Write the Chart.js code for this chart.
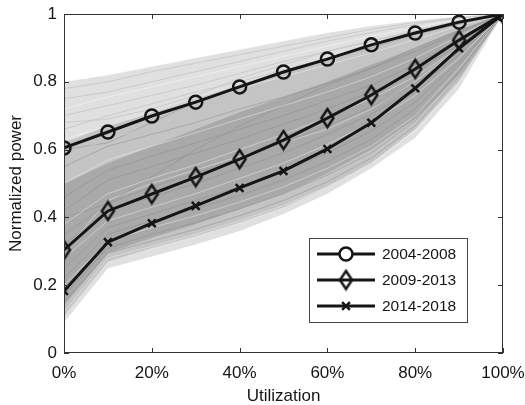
<!DOCTYPE html>
<html>
<head>
<meta charset="utf-8">
<script src="https://cdn.jsdelivr.net/npm/chart.js@4.4.1/dist/chart.umd.min.js"></script>
<style>
  html, body { margin: 0; padding: 0; background: #fff; }
  #wrap { width: 525px; height: 405px; }
</style>
</head>
<body>
<div id="wrap"><canvas id="powerChart" width="525" height="405"></canvas></div>
<script>
// x positions and tick labels
const utilization = [0, 10, 20, 30, 40, 50, 60, 70, 80, 90, 100];
const xTicks = [0, 20, 40, 60, 80, 100];
const yTicks = [0, 0.2, 0.4, 0.6, 0.8, 1];

// averaged curves per period
const seriesLabels = ['2004-2008', '2009-2013', '2014-2018'];
const power2004 = [0.605, 0.652, 0.699, 0.740, 0.785, 0.829, 0.867, 0.909, 0.944, 0.976, 1.0];
const power2009 = [0.304, 0.419, 0.469, 0.519, 0.572, 0.628, 0.693, 0.761, 0.838, 0.923, 1.0];
const power2014 = [0.183, 0.327, 0.383, 0.434, 0.487, 0.537, 0.602, 0.679, 0.781, 0.899, 1.0];

// gray cloud of individual servers: envelopes
const outerUpper = [0.80, 0.82, 0.845, 0.87, 0.895, 0.92, 0.945, 0.965, 0.98, 0.993, 1];
const outerLower = [0.09, 0.25, 0.285, 0.32, 0.36, 0.41, 0.47, 0.545, 0.635, 0.78, 1];
const midUpper   = [0.62, 0.67, 0.71, 0.75, 0.79, 0.83, 0.87, 0.91, 0.945, 0.98, 1];
const midLower   = [0.11, 0.27, 0.31, 0.345, 0.385, 0.43, 0.49, 0.56, 0.66, 0.80, 1];
const coreUpper  = [0.50, 0.56, 0.61, 0.66, 0.71, 0.755, 0.80, 0.85, 0.90, 0.955, 1];
const coreLower  = [0.14, 0.295, 0.34, 0.38, 0.425, 0.47, 0.53, 0.60, 0.69, 0.82, 1];

// some single server curves for texture
const serverCurves = [
  [0.80, 0.82, 0.845, 0.87, 0.895, 0.92, 0.945, 0.965, 0.98, 0.993, 1],
  [0.78, 0.80, 0.83, 0.855, 0.88, 0.905, 0.93, 0.955, 0.975, 0.99, 1],
  [0.75, 0.77, 0.80, 0.83, 0.86, 0.89, 0.92, 0.945, 0.97, 0.988, 1],
  [0.72, 0.755, 0.785, 0.815, 0.845, 0.875, 0.905, 0.935, 0.96, 0.985, 1],
  [0.70, 0.73, 0.76, 0.79, 0.825, 0.86, 0.89, 0.92, 0.95, 0.98, 1],
  [0.66, 0.70, 0.735, 0.77, 0.80, 0.835, 0.87, 0.905, 0.94, 0.975, 1],
  [0.63, 0.67, 0.71, 0.745, 0.78, 0.815, 0.85, 0.885, 0.925, 0.965, 1],
  [0.58, 0.63, 0.67, 0.71, 0.745, 0.785, 0.825, 0.865, 0.91, 0.955, 1],
  [0.55, 0.61, 0.645, 0.68, 0.72, 0.755, 0.795, 0.84, 0.89, 0.945, 1],
  [0.50, 0.57, 0.61, 0.65, 0.69, 0.73, 0.77, 0.815, 0.87, 0.935, 1],
  [0.46, 0.54, 0.58, 0.62, 0.66, 0.70, 0.745, 0.79, 0.85, 0.925, 1],
  [0.42, 0.51, 0.55, 0.59, 0.63, 0.675, 0.72, 0.77, 0.83, 0.91, 1],
  [0.38, 0.47, 0.515, 0.555, 0.60, 0.645, 0.695, 0.75, 0.815, 0.90, 1],
  [0.35, 0.44, 0.49, 0.53, 0.575, 0.62, 0.67, 0.725, 0.795, 0.89, 1],
  [0.32, 0.42, 0.46, 0.50, 0.545, 0.59, 0.645, 0.705, 0.78, 0.88, 1],
  [0.28, 0.39, 0.43, 0.47, 0.515, 0.56, 0.615, 0.68, 0.76, 0.87, 1],
  [0.25, 0.37, 0.41, 0.45, 0.49, 0.535, 0.59, 0.655, 0.74, 0.86, 1],
  [0.22, 0.35, 0.39, 0.425, 0.465, 0.51, 0.565, 0.63, 0.72, 0.85, 1],
  [0.20, 0.33, 0.37, 0.405, 0.445, 0.49, 0.545, 0.61, 0.70, 0.84, 1],
  [0.17, 0.31, 0.35, 0.385, 0.425, 0.47, 0.525, 0.59, 0.685, 0.83, 1],
  [0.15, 0.295, 0.33, 0.365, 0.405, 0.45, 0.505, 0.575, 0.67, 0.815, 1],
  [0.12, 0.28, 0.315, 0.35, 0.39, 0.435, 0.49, 0.56, 0.655, 0.80, 1],
  [0.60, 0.62, 0.68, 0.74, 0.79, 0.83, 0.87, 0.90, 0.94, 0.97, 1],
  [0.40, 0.44, 0.52, 0.60, 0.67, 0.73, 0.79, 0.84, 0.90, 0.95, 1],
  [0.30, 0.45, 0.50, 0.54, 0.58, 0.62, 0.66, 0.72, 0.80, 0.90, 1],
  [0.68, 0.69, 0.72, 0.76, 0.81, 0.85, 0.89, 0.92, 0.95, 0.98, 1]
];

const toPoints = vals => vals.map((v, i) => ({ x: utilization[i], y: v }));

// tall MATLAB-like diamond marker
function makeDiamond(w, h, lw, color) {
  const c = document.createElement('canvas');
  c.width = w + lw * 2;
  c.height = h + lw * 2;
  const g = c.getContext('2d');
  const cx = c.width / 2, cy = c.height / 2;
  g.strokeStyle = color;
  g.lineWidth = lw;
  g.beginPath();
  g.moveTo(cx, cy - h / 2);
  g.lineTo(cx + w / 2, cy);
  g.lineTo(cx, cy + h / 2);
  g.lineTo(cx - w / 2, cy);
  g.closePath();
  g.stroke();
  return c;
}

const black = '#151515';
const diamond = makeDiamond(12, 18, 2.5, black);
const markerStyles = [
  { pointStyle: 'circle', radius: 6.5 },
  { pointStyle: diamond, radius: 7 },
  { pointStyle: 'crossRot', radius: 5.5 }
];
const font = '"Liberation Sans", Arial, sans-serif';

const datasets = [];
[power2004, power2009, power2014].forEach((vals, i) => {
  datasets.push({
    label: seriesLabels[i],
    data: toPoints(vals),
    borderColor: black,
    borderWidth: 3,
    pointStyle: markerStyles[i].pointStyle,
    pointRadius: markerStyles[i].radius,
    pointBorderColor: black,
    pointBorderWidth: 2.5,
    pointBackgroundColor: 'rgba(0,0,0,0)',
    fill: false,
    order: 0
  });
});

serverCurves.forEach((vals, i) => {
  let color = 'rgba(140,140,140,0.5)';
  if (i % 3 === 0) color = 'rgba(255,255,255,0.4)';
  else if (i < 8 || i === 25) color = 'rgba(200,200,200,0.9)';
  datasets.push({
    label: 'server' + i,
    data: toPoints(vals),
    borderColor: color,
    borderWidth: 1,
    pointRadius: 0,
    fill: false,
    order: 1
  });
});

// envelope bands, darkest first in the list so it is painted on top
const bands = [
  [coreUpper, coreLower, '#a9a9a9'],
  [midUpper, midLower, '#c4c4c4'],
  [outerUpper, outerLower, '#e0e0e0']
];
bands.forEach(([up, low, color]) => {
  const idx = datasets.length;
  datasets.push({ label: 'bandUp', data: toPoints(up), borderWidth: 0, pointRadius: 0, borderColor: 'rgba(0,0,0,0)', backgroundColor: color, fill: idx + 1, order: 2 });
  datasets.push({ label: 'bandLow', data: toPoints(low), borderWidth: 0, pointRadius: 0, borderColor: 'rgba(0,0,0,0)', fill: false, order: 2 });
});

// axes box with inward ticks, matlab style
const boxPlugin = {
  id: 'box',
  afterDraw(chart) {
    const { ctx, chartArea: a, scales } = chart;
    ctx.save();
    ctx.strokeStyle = '#333';
    ctx.lineWidth = 1;
    ctx.strokeRect(a.left + 0.5, a.top + 0.5, a.right - a.left - 1, a.bottom - a.top - 1);
    ctx.beginPath();
    xTicks.forEach(v => {
      const x = Math.round(scales.x.getPixelForValue(v)) + 0.5;
      ctx.moveTo(x, a.bottom); ctx.lineTo(x, a.bottom - 5);
      ctx.moveTo(x, a.top); ctx.lineTo(x, a.top + 5);
    });
    yTicks.forEach(v => {
      const y = Math.round(scales.y.getPixelForValue(v)) + 0.5;
      ctx.moveTo(a.left, y); ctx.lineTo(a.left + 5, y);
      ctx.moveTo(a.right, y); ctx.lineTo(a.right - 5, y);
    });
    ctx.stroke();
    ctx.restore();
  }
};

// legend box in the lower right of the axes
const legendPlugin = {
  id: 'boxLegend',
  afterDraw(chart) {
    const { ctx, chartArea: a } = chart;
    const left = a.right - 194, top = a.bottom - 115, w = 158, h = 84;
    ctx.save();
    ctx.fillStyle = '#fff';
    ctx.fillRect(left, top, w, h);
    ctx.strokeStyle = '#444';
    ctx.lineWidth = 1;
    ctx.strokeRect(left + 0.5, top + 0.5, w, h);
    ctx.font = '15.5px ' + font;
    ctx.textBaseline = 'middle';
    seriesLabels.forEach((label, i) => {
      const y = top + 16 + i * 26;
      ctx.strokeStyle = black;
      ctx.lineWidth = 3;
      ctx.beginPath();
      ctx.moveTo(left + 8, y);
      ctx.lineTo(left + 66, y);
      ctx.stroke();
      ctx.lineWidth = 2.5;
      Chart.helpers.drawPoint(ctx, {
        pointStyle: markerStyles[i].pointStyle,
        radius: markerStyles[i].radius,
        borderWidth: 2.5,
        rotation: 0
      }, left + 37, y);
      ctx.fillStyle = black;
      ctx.fillText(label, left + 73, y + 1);
    });
    ctx.restore();
  }
};

new Chart(document.getElementById('powerChart'), {
  type: 'line',
  data: { datasets },
  options: {
    responsive: false,
    animation: false,
    events: [],
    layout: { padding: { top: 14, right: 22, bottom: 0, left: 0 } },
    plugins: {
      legend: { display: false },
      tooltip: { enabled: false },
      filler: { drawTime: 'beforeDatasetsDraw' }
    },
    scales: {
      x: {
        type: 'linear',
        min: 0,
        max: 100,
        afterBuildTicks: s => { s.ticks = xTicks.map(v => ({ value: v })); },
        afterFit: s => { s.height = 52; s.paddingLeft = 0; s.paddingRight = 0; },
        grid: { display: false, drawTicks: false },
        border: { display: false },
        ticks: {
          color: black,
          padding: 10,
          maxRotation: 0,
          font: { family: font, size: 17 },
          callback: v => v + '%'
        },
        title: {
          display: true,
          text: 'Utilization',
          color: black,
          padding: { top: 0, bottom: 0 },
          font: { family: font, size: 17, lineHeight: 1 }
        }
      },
      y: {
        type: 'linear',
        min: 0,
        max: 1,
        afterBuildTicks: s => { s.ticks = yTicks.map(v => ({ value: v })); },
        afterFit: s => { s.width = 64; s.paddingTop = 0; s.paddingBottom = 0; },
        grid: { display: false, drawTicks: false },
        border: { display: false },
        ticks: {
          color: black,
          padding: 7,
          font: { family: font, size: 17 },
          callback: v => String(v)
        },
        title: {
          display: true,
          text: 'Normalized power',
          color: black,
          padding: { top: 8, bottom: 0 },
          font: { family: font, size: 17, lineHeight: 1 }
        }
      }
    }
  },
  plugins: [boxPlugin, legendPlugin]
});
</script>
</body>
</html>
